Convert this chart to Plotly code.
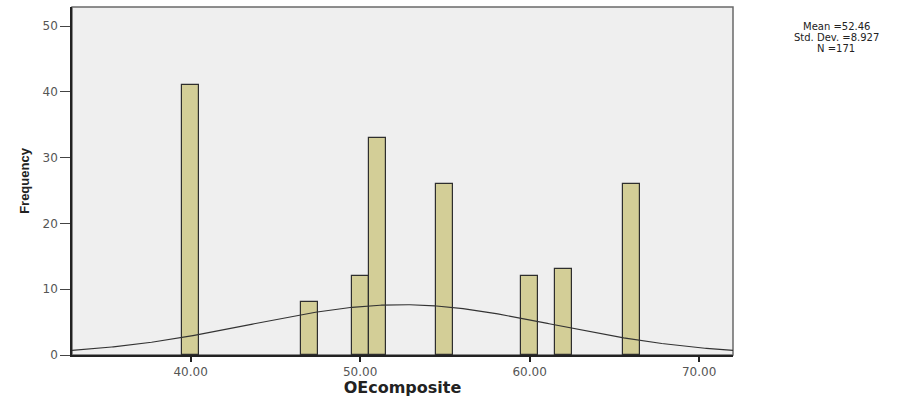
import numpy as np
import plotly.graph_objects as go

# OEcomposite histogram (bin width 1)
bin_centers = [40, 47, 50, 51, 55, 60, 62, 66]
frequencies = [41, 8, 12, 33, 26, 12, 13, 26]

mean_val = 52.46
std_val = 8.927
n_val = 171
bin_width = 1.0

x_ticks = [40, 50, 60, 70]
x_tick_labels = ["40.00", "50.00", "60.00", "70.00"]
y_ticks = [0, 10, 20, 30, 40, 50]
stats_lines = ["Mean =52.46", "Std. Dev. =8.927", "N =171"]

# fitted normal curve scaled to counts
xc = np.linspace(33.0, 72.0, 400)
yc = n_val * bin_width / (std_val * np.sqrt(2 * np.pi)) * np.exp(-0.5 * ((xc - mean_val) / std_val) ** 2)

fig = go.Figure()
fig.add_trace(go.Bar(
    x=bin_centers, y=frequencies, width=bin_width,
    marker=dict(color="#d3ce97", line=dict(color="#2e2e2e", width=1.2)),
    hoverinfo="x+y",
))
fig.add_trace(go.Scatter(
    x=xc, y=yc, mode="lines",
    line=dict(color="#333333", width=1.1),
    hoverinfo="skip",
))

# frame around the plotting area
fig.add_shape(type="rect", xref="x domain", yref="y domain", x0=0, x1=1, y0=0, y1=1,
              line=dict(color="#6a6a6a", width=1.5), layer="below")

# summary statistics, one line each
for i, line in enumerate(stats_lines):
    fig.add_annotation(
        xref="paper", yref="paper", x=1.156, y=0.943 - i * 0.031,
        xanchor="center", yanchor="middle",
        text=line, showarrow=False,
        font=dict(family="DejaVu Sans", size=10, color="#222222"),
    )

fig.update_layout(
    width=916, height=397,
    margin=dict(l=72, r=183, t=7, b=42),
    paper_bgcolor="white", plot_bgcolor="#efefef",
    showlegend=False, bargap=0,
    font=dict(family="DejaVu Sans", color="#555555"),
)
fig.update_xaxes(
    range=[33.0, 72.0], tickvals=x_ticks, ticktext=x_tick_labels,
    ticks="outside", ticklen=5, tickcolor="#222222", tickwidth=1.5,
    showline=True, linecolor="#222222", linewidth=1.5,
    showgrid=False, zeroline=False, automargin=False,
    tickfont=dict(family="DejaVu Sans", size=12, color="#555555"),
    title=dict(text="<b>OEcomposite</b>",
               font=dict(family="DejaVu Sans", size=16, color="#222222"), standoff=5),
)
fig.update_yaxes(
    range=[0, 52.9], tickvals=y_ticks,
    ticks="outside", ticklen=10, tickcolor="#444444", tickwidth=1.2,
    showline=True, linecolor="#222222", linewidth=1.5,
    showgrid=False, zeroline=False, automargin=False,
    tickfont=dict(family="DejaVu Sans", size=12, color="#555555"),
    title=dict(text="<b>Frequency</b>",
               font=dict(family="Liberation Sans, Arial", size=13, color="#222222"), standoff=10),
)

fig.write_html("out.html")
